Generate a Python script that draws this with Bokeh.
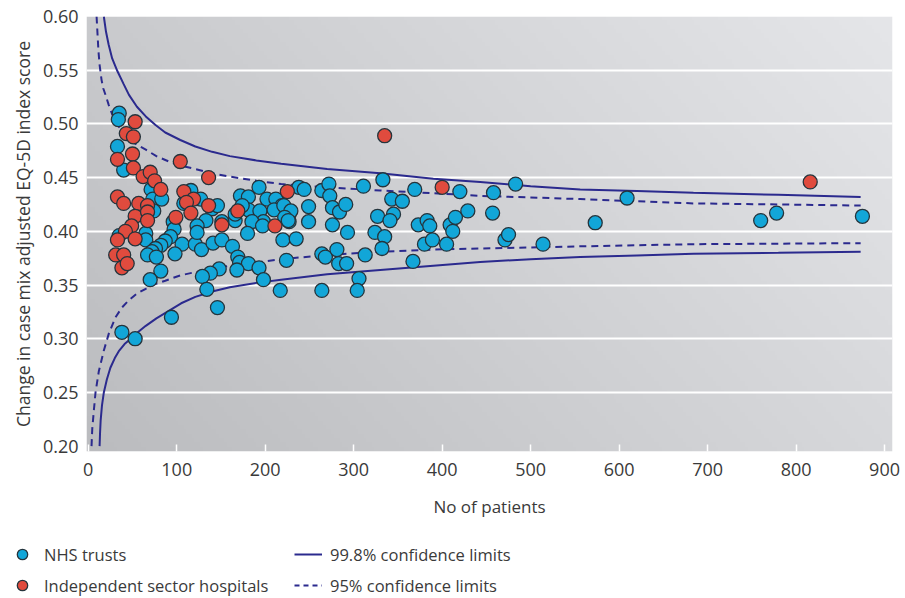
import numpy as np
from bokeh.plotting import figure
from bokeh.layouts import column
from bokeh.models import Legend, LegendItem, FixedTicker, Range1d, Title, CustomJSTickFormatter
from bokeh.embed import file_html
from bokeh.resources import INLINE

# ---------------- data ----------------
nhs_n = [35, 34, 33, 40, 71, 73, 83, 74, 96, 97, 35, 65, 65, 93, 87, 82, 76, 72, 106, 121, 128,
         67, 77, 98, 82, 70, 94, 38, 53, 146, 108,
         193, 116, 127, 140, 146, 172, 181, 181, 194, 202, 212, 219, 225, 227, 210, 227, 198, 185,
         197, 166, 174, 166, 151, 133, 123, 123, 180, 141, 151, 163, 169, 171, 181, 193, 168, 148,
         138, 129, 198, 134,
         238, 244, 264, 272, 273, 311, 333, 369, 420, 458, 483, 221, 229, 222, 226, 249, 249, 276,
         284, 291, 276, 293, 327, 343, 355, 345, 341, 324, 335, 332, 373, 383, 386, 380, 389, 405,
         409, 415, 412, 429, 457, 471, 475, 514, 220, 235, 224, 264, 268, 281, 283, 292, 313, 367,
         306, 217, 264, 304,
         609, 573, 760, 778, 875]
nhs_y = [0.510, 0.504, 0.479, 0.457, 0.439, 0.430, 0.430, 0.419, 0.409, 0.402, 0.396, 0.398, 0.392,
         0.395, 0.391, 0.387, 0.384, 0.381, 0.388, 0.388, 0.383, 0.378, 0.376, 0.379, 0.363, 0.355,
         0.320, 0.306, 0.300, 0.329, 0.426,
         0.441, 0.438, 0.430, 0.421, 0.424, 0.433, 0.432, 0.420, 0.419, 0.430, 0.430, 0.424, 0.419,
         0.416, 0.420, 0.409, 0.409, 0.409, 0.405, 0.410, 0.424, 0.416, 0.409, 0.410, 0.405, 0.399,
         0.398, 0.389, 0.392, 0.386, 0.376, 0.371, 0.370, 0.366, 0.364, 0.365, 0.361, 0.358, 0.355,
         0.346,
         0.441, 0.439, 0.438, 0.444, 0.433, 0.442, 0.448, 0.439, 0.437, 0.436, 0.444, 0.424, 0.419,
         0.413, 0.410, 0.423, 0.409, 0.422, 0.418, 0.425, 0.406, 0.399, 0.414, 0.430, 0.428, 0.416,
         0.410, 0.399, 0.395, 0.384, 0.406, 0.410, 0.405, 0.388, 0.392, 0.388, 0.406, 0.413, 0.400,
         0.419, 0.417, 0.392, 0.397, 0.388, 0.392, 0.393, 0.373, 0.379, 0.376, 0.383, 0.370, 0.370,
         0.378, 0.372, 0.356, 0.345, 0.345, 0.345,
         0.431, 0.408, 0.410, 0.417, 0.414]

ish_n = [335, 225, 400, 816, 104, 136, 108, 119, 111, 116, 136, 169, 211, 151, 53, 43, 51, 50, 33,
         51, 62, 70, 75, 82, 33, 40, 57, 67, 53, 67, 67, 99, 49, 42, 33, 53, 31, 40, 38, 44]
ish_y = [0.489, 0.437, 0.441, 0.446, 0.465, 0.450, 0.437, 0.430, 0.427, 0.417, 0.424, 0.419, 0.405,
         0.406, 0.502, 0.491, 0.488, 0.472, 0.467, 0.459, 0.451, 0.455, 0.447, 0.439, 0.432, 0.426,
         0.426, 0.424, 0.414, 0.418, 0.410, 0.413, 0.405, 0.400, 0.392, 0.393, 0.378, 0.378, 0.366,
         0.370]

# 99.8% confidence limits
up998_n = [17.6, 20, 23, 27, 33, 40, 46, 55, 65, 76, 87, 104, 121, 140, 160, 190, 218, 270, 330,
           390, 443, 500, 556, 620, 684, 780, 873]
up998_y = [0.600, 0.586, 0.574, 0.561, 0.549, 0.537, 0.527, 0.516, 0.507, 0.499, 0.492, 0.485,
           0.479, 0.474, 0.470, 0.466, 0.463, 0.458, 0.454, 0.449, 0.446, 0.442, 0.439, 0.4375,
           0.436, 0.434, 0.432]
lo998_n = [12.8, 13.3, 14, 15.5, 17.6, 21, 25, 30, 35, 41, 48, 56, 65, 77, 91, 105, 121, 140, 160,
           190, 218, 270, 330, 390, 443, 500, 556, 620, 684, 780, 873]
lo998_y = [0.200, 0.212, 0.224, 0.238, 0.250, 0.262, 0.273, 0.282, 0.289, 0.295, 0.300, 0.306,
           0.312, 0.319, 0.326, 0.333, 0.339, 0.344, 0.348, 0.352, 0.355, 0.360, 0.364, 0.368,
           0.3715, 0.374, 0.376, 0.3775, 0.379, 0.380, 0.381]
# 95% confidence limits
up95_n = [9.4, 10.5, 11.5, 12.8, 15, 17, 19.5, 23, 27, 33, 42, 52, 65, 77, 91, 105, 121, 140, 160,
          190, 218, 270, 330, 390, 443, 500, 556, 620, 684, 780, 873]
up95_y = [0.600, 0.583, 0.568, 0.555, 0.541, 0.533, 0.527, 0.518, 0.509, 0.499, 0.490, 0.482,
          0.476, 0.470, 0.465, 0.461, 0.458, 0.454, 0.451, 0.447, 0.444, 0.441, 0.438, 0.4355,
          0.433, 0.4315, 0.430, 0.428, 0.426, 0.425, 0.424]
lo95_n = [3.7, 4.5, 6.3, 8.2, 12, 17.6, 23.3, 30.8, 38, 46, 55, 65, 76, 87, 104, 121, 140, 160,
          190, 218, 270, 330, 390, 443, 500, 556, 620, 684, 780, 873]
lo95_y = [0.200, 0.216, 0.233, 0.250, 0.270, 0.289, 0.305, 0.320, 0.329, 0.336, 0.342, 0.3465,
          0.351, 0.354, 0.359, 0.362, 0.365, 0.368, 0.371, 0.374, 0.378, 0.381, 0.383, 0.384,
          0.385, 0.386, 0.387, 0.388, 0.3885, 0.389]

x_ticks = [0, 100, 200, 300, 400, 500, 600, 700, 800, 900]
y_ticks = [0.20, 0.25, 0.30, 0.35, 0.40, 0.45, 0.50, 0.55, 0.60]
y_grid = [0.25, 0.30, 0.35, 0.40, 0.45, 0.50, 0.55]

# ---------------- styling ----------------
FONT = "Open Sans"
TXT = "#3a3a3a"
NAVY = "#2b2a8e"
BLUE = "#12a6d8"
RED = "#e04b3e"
EDGE = "#25343c"

X0, X1 = -2, 909
Y0, Y1 = 0.195, 0.60

p = figure(width=905, height=528, x_range=Range1d(X0, X1), y_range=Range1d(Y0, Y1),
           output_backend="svg", toolbar_location=None,
           min_border_left=86, min_border_top=16, min_border_right=13, min_border_bottom=77)
p.outline_line_color = None
p.background_fill_color = None
p.border_fill_color = "white"

# gradient background of the plot area
nx, ny = 300, 100
gx, gy = np.meshgrid(np.linspace(0, 1, nx), np.linspace(0, 1, ny))
c = 187 + 28 * gx + 14 * gy
img = np.empty((ny, nx), dtype=np.uint32)
view = img.view(dtype=np.uint8).reshape((ny, nx, 4))
view[..., 0] = np.clip(c, 0, 255).astype(np.uint8)
view[..., 1] = np.clip(c + 1, 0, 255).astype(np.uint8)
view[..., 2] = np.clip(c + 4, 0, 255).astype(np.uint8)
view[..., 3] = 255
p.image_rgba(image=[img], x=X0, y=Y0, dw=X1 - X0, dh=Y1 - Y0, level="image")

# grid
p.xgrid.grid_line_color = None
p.ygrid.ticker = FixedTicker(ticks=y_grid)
p.ygrid.grid_line_color = "white"
p.ygrid.grid_line_width = 2.2

# axes
p.xaxis.ticker = FixedTicker(ticks=x_ticks)
p.yaxis.ticker = FixedTicker(ticks=y_ticks)
p.yaxis.formatter = CustomJSTickFormatter(code="return tick.toFixed(2);")
for ax in (p.xaxis[0], p.yaxis[0]):
    ax.axis_line_color = None
    ax.minor_tick_line_color = None
    ax.major_label_text_font = FONT
    ax.major_label_text_font_size = "18px"
    ax.major_label_text_color = TXT
    ax.axis_label_text_font = FONT
    ax.axis_label_text_font_size = "17px"
    ax.axis_label_text_font_style = "normal"
    ax.axis_label_text_color = TXT
p.xaxis.major_tick_in = 7
p.xaxis.major_tick_out = 0
p.xaxis.major_tick_line_color = "white"
p.xaxis.major_tick_line_width = 1.5
p.xaxis.major_label_standoff = 11
p.xaxis.axis_label = "No of patients"
p.xaxis.axis_label_standoff = 16
p.yaxis.major_tick_line_color = None
p.yaxis.major_tick_in = 0
p.yaxis.major_tick_out = 0
p.yaxis.major_label_standoff = 8

ytitle = Title(text="Change in case mix adjusted EQ-5D index score", align="center",
               offset=15, text_font=FONT, text_font_size="17.5px", text_font_style="normal",
               text_color=TXT, standoff=10)
p.add_layout(ytitle, "left")

# confidence limits
r998 = p.line(up998_n, up998_y, line_color=NAVY, line_width=2)
p.line(lo998_n, lo998_y, line_color=NAVY, line_width=2)
r95 = p.line(up95_n, up95_y, line_color=NAVY, line_width=2, line_dash="7 5")
p.line(lo95_n, lo95_y, line_color=NAVY, line_width=2, line_dash="7 5")

# points
p.scatter(nhs_n, nhs_y, size=14, fill_color=BLUE, line_color=EDGE, line_width=1.3)
p.scatter(ish_n, ish_y, size=14, fill_color=RED, line_color=EDGE, line_width=1.3)

# ---------------- legend strip (its own small plot below) ----------------
q = figure(width=905, height=70, x_range=Range1d(-1, 0), y_range=Range1d(-1, 0),
           output_backend="svg", toolbar_location=None,
           min_border_left=0, min_border_right=0, min_border_top=0, min_border_bottom=0)
q.axis.visible = False
q.grid.visible = False
q.outline_line_color = None
q.background_fill_color = "white"
try:
    p.frame_align = False
    q.frame_align = False
except Exception:
    pass
# legend proxies: same series, outside this strip's (empty) ranges, so only the legend shows
lg_nhs = q.scatter(nhs_n[:1], nhs_y[:1], size=14, fill_color=BLUE, line_color=EDGE, line_width=1.3)
lg_ish = q.scatter(ish_n[:1], ish_y[:1], size=14, fill_color=RED, line_color=EDGE, line_width=1.3)
lg_998 = q.line(up998_n[:2], up998_y[:2], line_color=NAVY, line_width=2)
lg_95 = q.line(up95_n[:2], up95_y[:2], line_color=NAVY, line_width=2, line_dash="5 4")

legend = Legend(items=[
    LegendItem(label="NHS trusts", renderers=[lg_nhs]),
    LegendItem(label="Independent sector hospitals", renderers=[lg_ish]),
    LegendItem(label="99.8% confidence limits", renderers=[lg_998]),
    LegendItem(label="95% confidence limits", renderers=[lg_95]),
], ncols=2, orientation="vertical", location=(8, 0))
legend.background_fill_alpha = 0
legend.border_line_color = None
legend.label_text_font = FONT
legend.label_text_font_size = "16.5px"
legend.label_text_color = TXT
legend.glyph_width = 28
legend.glyph_height = 26
legend.label_height = 26
legend.label_width = 245
legend.label_standoff = 8
legend.spacing = 5
legend.padding = 0
legend.margin = 0
q.add_layout(legend, "center")

layout = column(p, q, spacing=0)
open("out.html", "w").write(file_html(layout, INLINE))
